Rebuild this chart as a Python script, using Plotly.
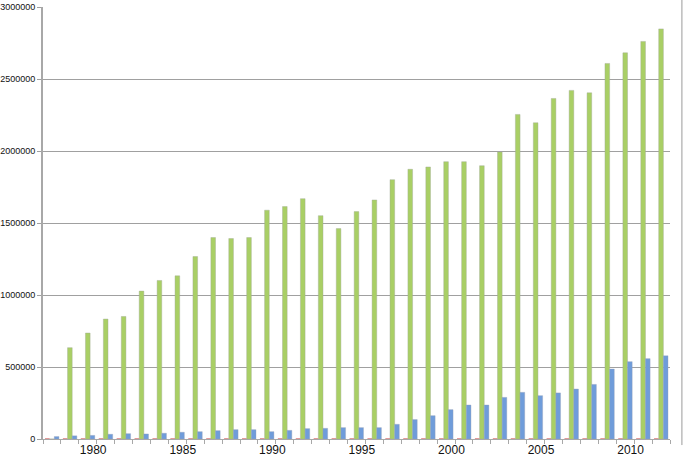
import plotly.graph_objects as go

years = list(range(1978, 2013))

# small pink series (near zero)
series_red = [5000] * 35

series_green = [0, 634000, 736000, 833000, 851000, 1027000, 1101000, 1133000, 1267000, 1399000,
                1392000, 1399000, 1589000, 1614000, 1669000, 1551000, 1461000, 1579000, 1660000, 1801000,
                1873000, 1889000, 1926000, 1926000, 1898000, 1993000, 2254000, 2196000, 2365000, 2421000,
                2404000, 2608000, 2682000, 2761000, 2848000]

series_blue = [17000, 22000, 25000, 33000, 37000, 35000, 40000, 47000, 51000, 58000,
               65000, 65000, 51000, 60000, 72000, 74000, 79000, 79000, 79000, 102000,
               135000, 162000, 204000, 236000, 236000, 289000, 324000, 301000, 320000, 347000,
               379000, 486000, 537000, 558000, 578000]

tick_years = [1980, 1985, 1990, 1995, 2000, 2005, 2010]
y_ticks = [0, 500000, 1000000, 1500000, 2000000, 2500000, 3000000]

fig = go.Figure()
fig.add_trace(go.Bar(x=years, y=series_red, marker=dict(color="#e39a9a", line=dict(width=0)), name="s1"))
fig.add_trace(go.Bar(x=years, y=series_green,
                     marker=dict(color="#a9cf65", line=dict(width=0.6, color="rgba(160,170,150,0.7)")), name="s2"))
fig.add_trace(go.Bar(x=years, y=series_blue,
                     marker=dict(color="#6f9cda", line=dict(width=0.6, color="rgba(150,160,180,0.6)")), name="s3"))

fig.update_layout(
    width=684, height=469,
    margin=dict(l=43, r=14, t=7, b=30, autoexpand=False),
    paper_bgcolor="white", plot_bgcolor="white",
    barmode="group", bargap=0.22, bargroupgap=0,
    showlegend=False,
    font=dict(family="Liberation Sans", color="#111", size=9),
    xaxis=dict(
        automargin=False,
        range=[1977.5, 2012.5],
        tickmode="array",
        tickvals=[y + 0.3 for y in tick_years],
        ticktext=[str(y) for y in tick_years],
        ticks="", ticklen=0,
        tickfont=dict(family="Liberation Sans", size=12, color="#111"),
        showgrid=False, zeroline=False,
        showline=True, linecolor="#a8a8a8", linewidth=1,
        minor=dict(ticks="outside", tick0=1977.5, dtick=1, ticklen=4, tickcolor="#a8a8a8", showgrid=False),
    ),
    yaxis=dict(
        automargin=False,
        range=[0, 3000000],
        tickmode="array",
        tickvals=y_ticks,
        ticktext=[str(v) for v in y_ticks],
        ticks="outside", ticklen=4, tickcolor="#a0a0a0",
        tickfont=dict(family="Liberation Sans", size=9, color="#111"),
        showgrid=True, gridcolor="#a0a0a0", gridwidth=1,
        zeroline=False,
        showline=True, linecolor="#a8a8a8", linewidth=2,
    ),
)

# outer frame line on the right side
fig.add_shape(type="line", xref="paper", yref="paper",
              x0=1.019, x1=1.019, y0=-0.014, y1=1.02,
              line=dict(color="#9a9a9a", width=1))

fig.write_html("out.html",
               config={"displayModeBar": False},
               post_script="document.body.style.margin='0';document.body.style.overflow='hidden';")
